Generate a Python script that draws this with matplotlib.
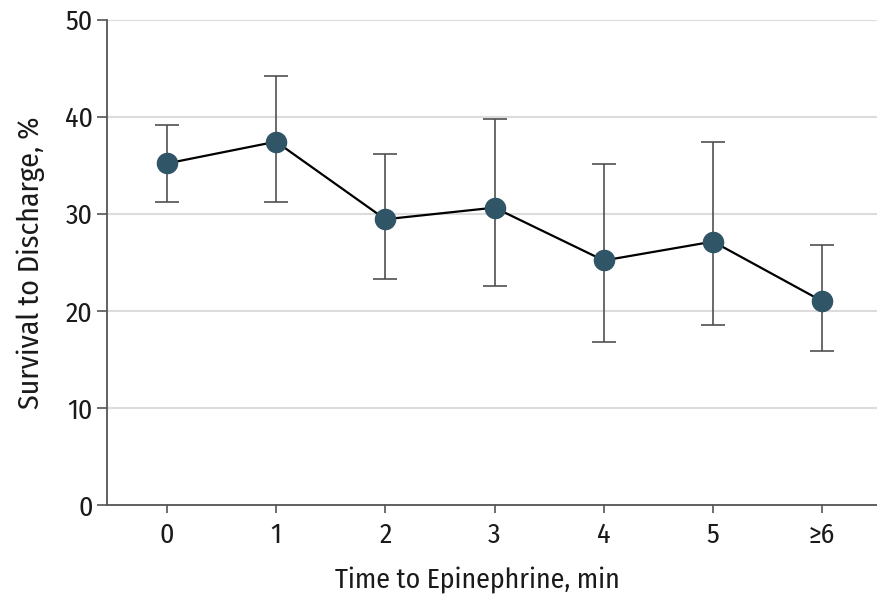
import matplotlib
matplotlib.use("Agg")
import matplotlib.pyplot as plt
import numpy as np

plt.rcParams['font.family'] = ['Fira Sans Condensed', 'DejaVu Sans']
plt.rcParams['font.weight'] = 'normal'

# data
categories = ["0", "1", "2", "3", "4", "5", "\u22656"]
survival   = [35.2, 37.45, 29.45, 30.65, 25.2, 27.15, 21.0]
ci_upper   = [39.2, 44.2, 36.15, 39.8, 35.15, 37.4, 26.8]
ci_lower   = [31.2, 31.2, 23.3, 22.6, 16.8, 18.6, 15.9]

x = np.arange(len(categories))
surv = np.array(survival)
yerr = [surv - np.array(ci_lower), np.array(ci_upper) - surv]

fig = plt.figure(figsize=(8.78, 6.04), dpi=100)
ax = fig.add_axes([0.1215, 0.164, 0.8785, 0.803])

ax.errorbar(x, surv, yerr=yerr, fmt="none", ecolor="#505050",
            elinewidth=1.2, capsize=8.5, capthick=1.2, zorder=2)
ax.plot(x, surv, color="black", linewidth=1.6, zorder=3)
ax.plot(x, surv, "o", color="#2f5566", markersize=14.5, zorder=4)

ax.set_xlim(-0.55, 6.51)
ax.set_ylim(0, 50)
ax.set_yticks([0, 10, 20, 30, 40, 50])
ax.set_xticks(x)
ax.set_xticklabels(categories)

ax.grid(axis="y", color="#dcdcdc", linewidth=1.5)
ax.set_axisbelow(True)
for s in ["top", "right"]:
    ax.spines[s].set_visible(False)
for s in ["left", "bottom"]:
    ax.spines[s].set_color("#555555")
    ax.spines[s].set_linewidth(1.3)

ax.tick_params(axis="y", length=7, width=1.2, color="#555555",
               labelsize=20, labelcolor="#1a1a1a", pad=3)
ax.tick_params(axis="x", length=6, width=1.2, color="#555555",
               labelsize=20, labelcolor="#1a1a1a", pad=6)

ax.set_xlabel("Time to Epinephrine, min", fontsize=20, color="#1a1a1a", labelpad=12)
ax.xaxis.set_label_coords(0.481, -0.128)
ax.set_ylabel("Survival to Discharge, %", fontsize=21.5, color="#1a1a1a", labelpad=14)

fig.savefig("out.png", dpi=100)
